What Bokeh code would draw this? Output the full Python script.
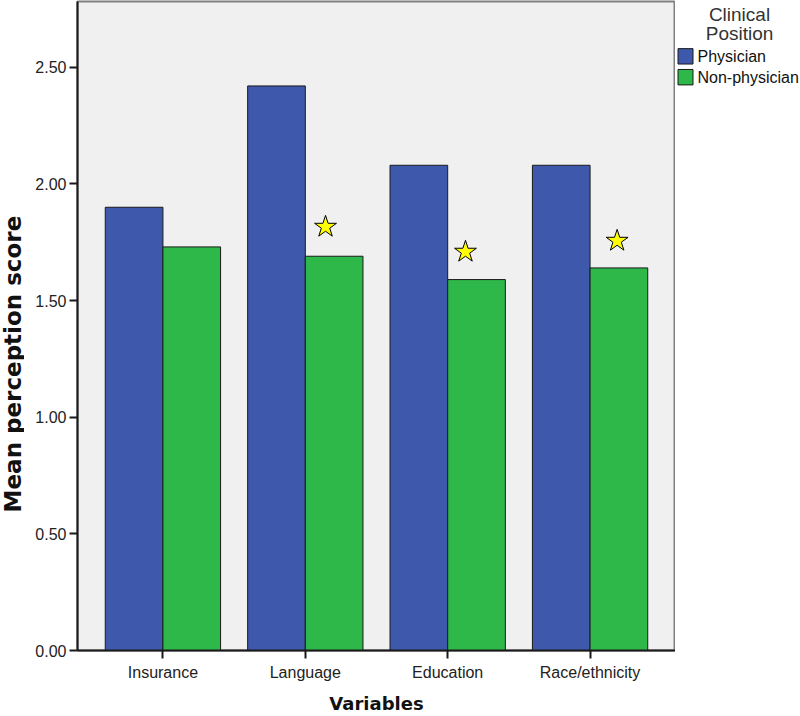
import math
from bokeh.plotting import figure
from bokeh.layouts import row
from bokeh.models import (ColumnDataSource, FactorRange, Range1d,
                          NumeralTickFormatter, SingleIntervalTicker)
from bokeh.core.properties import value
from bokeh.transform import dodge
from bokeh.embed import file_html
from bokeh.resources import INLINE

categories = ["Insurance", "Language", "Education", "Race/ethnicity"]
physician = [1.90, 2.42, 2.08, 2.08]
non_physician = [1.73, 1.69, 1.59, 1.64]
star_categories = ["Language", "Education", "Race/ethnicity"]
star_values = [1.816, 1.709, 1.756]
star_offsets = [0.142, 0.125, 0.19]
legend_title_lines = ["Clinical", "Position"]
series_names = ["Physician", "Non-physician"]

BLUE = "#3e58ac"
GREEN = "#2fb84a"
series_colors = [BLUE, GREEN]
FONT = "Liberation Sans"
H = 716

# ---------------- main chart ----------------
src = ColumnDataSource(dict(cat=categories, phys=physician, nonphys=non_physician))

p = figure(width=651, height=H, output_backend="svg", toolbar_location=None,
           x_range=FactorRange(factors=categories, range_padding=0.05),
           y_range=Range1d(0, 2.782),
           min_border_left=53, min_border_top=1, min_border_bottom=63, min_border_right=0)

p.background_fill_color = "#f0f0f0"
p.border_fill_color = "white"
p.outline_line_color = "#808080"
p.outline_line_width = 2
p.xgrid.visible = False
p.ygrid.visible = False

p.vbar(x=dodge("cat", -0.2025, range=p.x_range), top="phys", width=0.405, source=src,
       fill_color=BLUE, line_color="#1a1a1a", line_width=1)
p.vbar(x=dodge("cat", 0.2025, range=p.x_range), top="nonphys", width=0.405, source=src,
       fill_color=GREEN, line_color="#1a1a1a", line_width=1)

for c, v, off in zip(star_categories, star_values, star_offsets):
    s = ColumnDataSource(dict(cat=[c], val=[v]))
    p.scatter(x=dodge("cat", off, range=p.x_range), y="val", source=s, marker="star",
              size=23, fill_color="#ffff00", line_color="black", line_width=1)

p.yaxis.ticker = SingleIntervalTicker(interval=0.5)
p.yaxis.formatter = NumeralTickFormatter(format="0.00")
p.xaxis.axis_label = "Variables"
for ax in (p.xaxis, p.yaxis):
    ax.axis_line_color = "#1a1a1a"
    ax.axis_line_width = 2
    ax.major_tick_line_color = "#1a1a1a"
    ax.major_tick_line_width = 2
    ax.major_tick_in = 0
    ax.major_tick_out = 8
    ax.minor_tick_line_color = None
    ax.major_label_text_font = FONT
    ax.major_label_text_font_size = "16px"
    ax.major_label_text_color = "#222222"
p.xaxis.axis_label_text_font = "DejaVu Sans"
p.xaxis.axis_label_text_font_style = "bold"
p.xaxis.axis_label_text_color = "#111111"
p.xaxis.axis_label_text_font_size = "18px"
p.xaxis.major_label_standoff = 5
p.xaxis.axis_label_standoff = 9
p.yaxis.major_label_standoff = 3

# ---------------- left strip: y-axis title ----------------
p0 = figure(width=24, height=H, output_backend="svg", toolbar_location=None,
            x_range=Range1d(0, 24), y_range=Range1d(H, 0),
            x_axis_location=None, y_axis_location=None,
            min_border=0, outline_line_color=None)
p0.xgrid.visible = False
p0.ygrid.visible = False
p0.text(x=[12], y=[400], text=["Mean perception score"], angle=math.pi / 2,
        text_font=value("DejaVu Sans"), text_font_style="bold", text_font_size="23px",
        text_color="#111111", text_align="center", text_baseline="middle")

# ---------------- right strip: legend ----------------
p2 = figure(width=125, height=H, output_backend="svg", toolbar_location=None,
            x_range=Range1d(0, 125), y_range=Range1d(H, 0),
            x_axis_location=None, y_axis_location=None,
            min_border=0, outline_line_color=None)
p2.xgrid.visible = False
p2.ygrid.visible = False
p2.text(x=[64, 64], y=[14, 35], text=legend_title_lines,
        text_font=value(FONT), text_font_size="19px", text_color="#333333",
        text_align="center", text_baseline="middle")
leg_y = [60.5, 83.5]
p2.rect(x=[10, 10], y=leg_y, width=15, height=17, fill_color=series_colors,
        line_color="#1a1a1a", line_width=1)
p2.text(x=[22, 22], y=leg_y, text=series_names, text_font=value(FONT),
        text_font_size="16px", text_color="#111111", text_align="left",
        text_baseline="middle")

layout = row(p0, p, p2, spacing=0)
open("out.html", "w").write(file_html(layout, INLINE))
